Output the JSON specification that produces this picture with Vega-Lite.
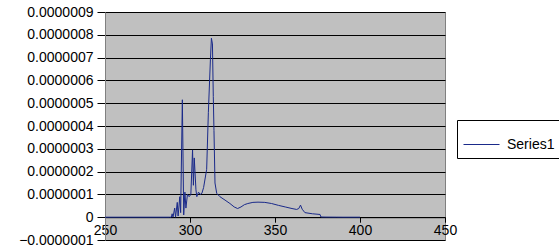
{
  "$schema": "https://vega.github.io/schema/vega-lite/v6.json",
  "width": 340,
  "height": 228,
  "autosize": "none",
  "padding": {"left": 105, "top": 12, "right": 114, "bottom": 10},
  "background": "white",
  "config": {
    "view": {"fill": "#c0c0c0", "stroke": "#808080", "strokeWidth": 1},
    "font": "Liberation Sans"
  },
  "data": {
    "values": [
      {"x": 250, "y": 0, "s": "Series1"},
      {"x": 260, "y": 0, "s": "Series1"},
      {"x": 270, "y": 0, "s": "Series1"},
      {"x": 280, "y": 0, "s": "Series1"},
      {"x": 288, "y": 0, "s": "Series1"},
      {"x": 289, "y": 0, "s": "Series1"},
      {"x": 289.5, "y": 1.5e-8, "s": "Series1"},
      {"x": 290, "y": 0, "s": "Series1"},
      {"x": 291, "y": 4e-8, "s": "Series1"},
      {"x": 291.5, "y": 0, "s": "Series1"},
      {"x": 292.5, "y": 6.5e-8, "s": "Series1"},
      {"x": 293, "y": 5e-9, "s": "Series1"},
      {"x": 294, "y": 9e-8, "s": "Series1"},
      {"x": 294.5, "y": 2e-8, "s": "Series1"},
      {"x": 295.5, "y": 5.15e-7, "s": "Series1"},
      {"x": 296.3, "y": 1e-8, "s": "Series1"},
      {"x": 297, "y": 1.1e-7, "s": "Series1"},
      {"x": 297.6, "y": 4e-8, "s": "Series1"},
      {"x": 298.5, "y": 1.0e-7, "s": "Series1"},
      {"x": 299.5, "y": 9e-8, "s": "Series1"},
      {"x": 300.5, "y": 1.0e-7, "s": "Series1"},
      {"x": 301.5, "y": 2.95e-7, "s": "Series1"},
      {"x": 302, "y": 1.4e-7, "s": "Series1"},
      {"x": 302.5, "y": 2.6e-7, "s": "Series1"},
      {"x": 303.5, "y": 1.2e-7, "s": "Series1"},
      {"x": 304, "y": 9e-8, "s": "Series1"},
      {"x": 305, "y": 1.1e-7, "s": "Series1"},
      {"x": 306, "y": 1.0e-7, "s": "Series1"},
      {"x": 307, "y": 1.05e-7, "s": "Series1"},
      {"x": 308, "y": 1.3e-7, "s": "Series1"},
      {"x": 309.8, "y": 2.1e-7, "s": "Series1"},
      {"x": 310.8, "y": 4.6e-7, "s": "Series1"},
      {"x": 312, "y": 6.9e-7, "s": "Series1"},
      {"x": 312.6, "y": 7.85e-7, "s": "Series1"},
      {"x": 313.2, "y": 7.6e-7, "s": "Series1"},
      {"x": 313.7, "y": 5.3e-7, "s": "Series1"},
      {"x": 314.1, "y": 3.8e-7, "s": "Series1"},
      {"x": 314.7, "y": 1.5e-7, "s": "Series1"},
      {"x": 315.7, "y": 1.05e-7, "s": "Series1"},
      {"x": 317.6, "y": 9e-8, "s": "Series1"},
      {"x": 320.6, "y": 7.5e-8, "s": "Series1"},
      {"x": 323.5, "y": 6e-8, "s": "Series1"},
      {"x": 326, "y": 4.5e-8, "s": "Series1"},
      {"x": 328, "y": 3.8e-8, "s": "Series1"},
      {"x": 330, "y": 4.5e-8, "s": "Series1"},
      {"x": 332, "y": 5.5e-8, "s": "Series1"},
      {"x": 334, "y": 6e-8, "s": "Series1"},
      {"x": 337, "y": 6.5e-8, "s": "Series1"},
      {"x": 340, "y": 6.6e-8, "s": "Series1"},
      {"x": 344, "y": 6.5e-8, "s": "Series1"},
      {"x": 348, "y": 6e-8, "s": "Series1"},
      {"x": 352, "y": 5.2e-8, "s": "Series1"},
      {"x": 356, "y": 4.5e-8, "s": "Series1"},
      {"x": 360, "y": 3.8e-8, "s": "Series1"},
      {"x": 362.7, "y": 3.4e-8, "s": "Series1"},
      {"x": 364, "y": 3.8e-8, "s": "Series1"},
      {"x": 365, "y": 5.3e-8, "s": "Series1"},
      {"x": 366, "y": 3.5e-8, "s": "Series1"},
      {"x": 367.6, "y": 2e-8, "s": "Series1"},
      {"x": 372, "y": 1.5e-8, "s": "Series1"},
      {"x": 376.5, "y": 1.2e-8, "s": "Series1"},
      {"x": 377, "y": 1e-9, "s": "Series1"},
      {"x": 380, "y": 5e-10, "s": "Series1"},
      {"x": 386, "y": 2e-10, "s": "Series1"},
      {"x": 390, "y": 0, "s": "Series1"},
      {"x": 400, "y": 0, "s": "Series1"}
    ]
  },
  "mark": {"type": "line", "strokeWidth": 1, "interpolate": "linear"},
  "encoding": {
    "x": {
      "field": "x",
      "type": "quantitative",
      "scale": {"domain": [250, 450], "nice": false, "zero": false},
      "axis": {
        "title": null,
        "offset": -22.8,
        "tickCount": 4,
        "grid": false,
        "domainColor": "black",
        "tickColor": "black",
        "tickSize": 5,
        "labelPadding": 1,
        "labelFontSize": 14,
        "labelColor": "black",
        "labelFlush": false,
        "labelFont": "Liberation Sans"
      }
    },
    "y": {
      "field": "y",
      "type": "quantitative",
      "scale": {"domain": [-1e-7, 9e-7], "nice": false, "zero": false},
      "axis": {
        "title": null,
        "tickCount": 10,
        "grid": true,
        "gridColor": "black",
        "gridOpacity": 1,
        "gridWidth": 1,
        "domainColor": "#808080",
        "tickColor": "black",
        "tickSize": 8,
        "labelPadding": 4,
        "labelFontSize": 14,
        "labelColor": "black",
        "labelFont": "Liberation Sans",
        "labelFlush": false,
        "labelExpr": "abs(datum.value) < 1e-12 ? '0' : format(datum.value, '.7f')"
      }
    },
    "color": {
      "field": "s",
      "type": "nominal",
      "scale": {"range": ["#1a2a8a"]},
      "legend": {
        "title": null,
        "orient": "none",
        "legendX": 352,
        "legendY": 108,
        "strokeColor": "black",
        "padding": 6,
        "symbolType": "stroke",
        "symbolSize": 1296,
        "symbolStrokeWidth": 1,
        "labelOffset": 7,
        "labelFontSize": 14,
        "labelColor": "black",
        "labelFont": "Liberation Sans"
      }
    }
  }
}
